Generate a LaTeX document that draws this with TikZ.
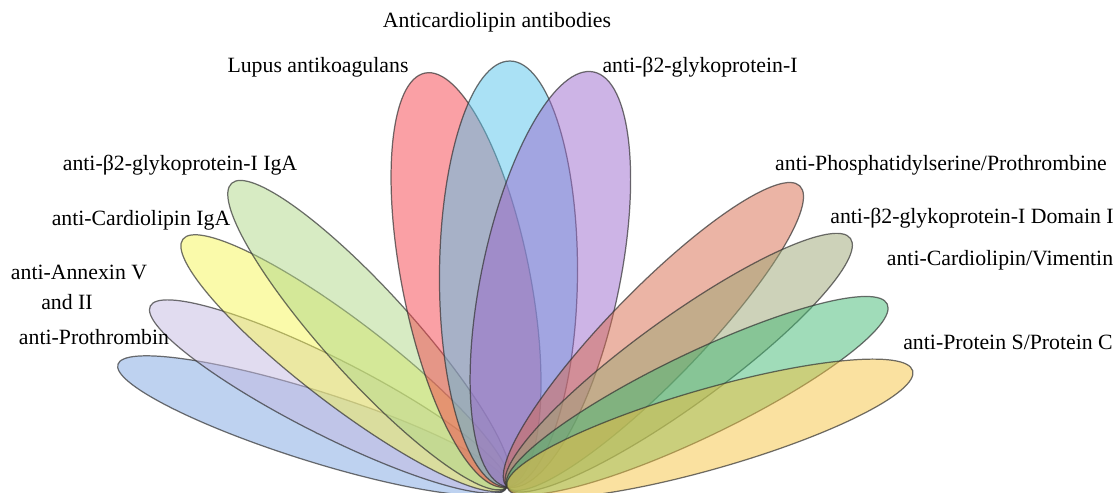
\documentclass[tikz,border=0pt]{standalone}
\usepackage{fontspec}
\setmainfont{Liberation Serif}
\usepackage{tikz}
\usetikzlibrary{positioning}
\usepackage{xcolor}

\definecolor{petBlue}{RGB}{125,165,225}
\definecolor{petLavender}{RGB}{195,185,225}
\definecolor{petYellow}{RGB}{245,245,85}
\definecolor{petLgreen}{RGB}{175,215,135}
\definecolor{petRed}{RGB}{245,65,75}
\definecolor{petCyan}{RGB}{85,195,235}
\definecolor{petPurple}{RGB}{155,105,205}
\definecolor{petSalmon}{RGB}{215,105,75}
\definecolor{petOlive}{RGB}{155,165,115}
\definecolor{petTeal}{RGB}{65,185,115}
\definecolor{petOrange}{RGB}{245,195,65}

\tikzset{
  petal/.style={draw=black!80, draw opacity=0.7, line width=0.7pt, fill opacity=0.5},
  lbl/.style={font=\fontsize{12.4}{14}\selectfont, inner sep=1pt}
}

\begin{document}
\begin{tikzpicture}[x=0.02cm, y=0.02cm]
            \useasboundingbox (0,0) rectangle (1118,493);
            \coordinate (o) at (507,6);

            % Left petals
            \draw[petal, fill=petBlue, shift={(o)}, rotate=162.5] (204,0) ellipse [x radius=204, y radius=35];
            \draw[petal, fill=petLavender, shift={(o)}, rotate=153.1] (200,0) ellipse [x radius=200, y radius=38];
            \draw[petal, fill=petYellow, shift={(o)}, rotate=142.6] (204,0) ellipse [x radius=204, y radius=42];
            \draw[petal, fill=petLgreen, shift={(o)}, rotate=132.2] (205,0) ellipse [x radius=205, y radius=44];

            % Upper petals
            \draw[petal, fill=petRed, shift={(o)}, rotate=101.2] (211,0) ellipse [x radius=211, y radius=64];
            \draw[petal, fill=petCyan, shift={(o)}, rotate=89.6] (213,0) ellipse [x radius=213, y radius=69];
            \draw[petal, fill=petPurple, shift={(o)}, rotate=78.2] (212,0) ellipse [x radius=212, y radius=69];

            % Right petals
            \draw[petal, fill=petSalmon, shift={(o)}, rotate=45.8] (210,0) ellipse [x radius=210, y radius=46];
            \draw[petal, fill=petOlive, shift={(o)}, rotate=35.9] (212,0) ellipse [x radius=212, y radius=44];
            \draw[petal, fill=petTeal, shift={(o)}, rotate=25.7] (211,0) ellipse [x radius=211, y radius=42];
            \draw[petal, fill=petOrange, shift={(o)}, rotate=16] (211,0) ellipse [x radius=211, y radius=40];

            % Labels
            \node[lbl] (lblAcl) at (497,471) {Anticardiolipin antibodies};
            \node[lbl] (lblLupus) at (318,426) {Lupus antikoagulans};
            \node[lbl] (lblBeta) at (700,426) {anti-β2-glykoprotein-I};
            \node[lbl] (lblBetaIgA) at (180,328) {anti-β2-glykoprotein-I IgA};
            \node[lbl] (lblCardIgA) at (141,273) {anti-Cardiolipin IgA};
            \node[lbl] (lblAnnexin) at (79,221) {anti-Annexin V};
            \node[lbl] (lblAnnexinB) at (67,191) {and II};
            \node[lbl] (lblProth) at (94,156) {anti-Prothrombin};
            \node[lbl] (lblPhos) at (941,328) {anti-Phosphatidylserine/Prothrombine};
            \node[lbl] (lblDomain) at (972,275) {anti-β2-glykoprotein-I Domain I};
            \node[lbl] (lblVim) at (1000,233) {anti-Cardiolipin/Vimentin};
            \node[lbl] (lblProtS) at (1008,151) {anti-Protein S/Protein C};
        \end{tikzpicture}
\end{document}
